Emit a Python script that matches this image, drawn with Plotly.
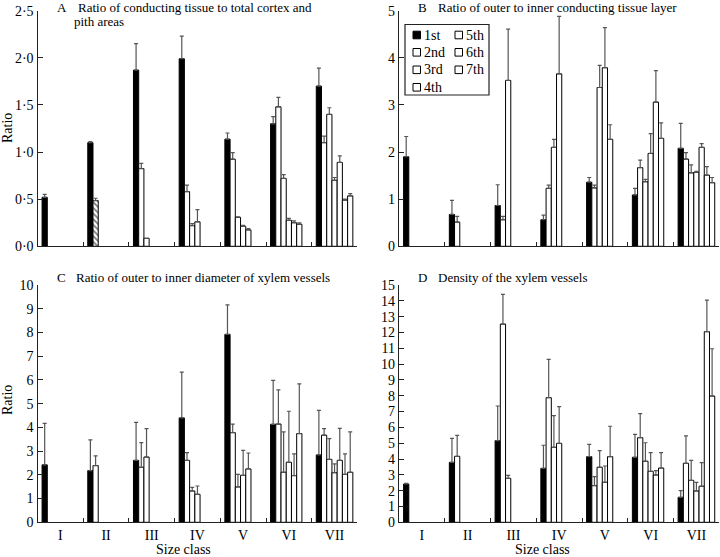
import plotly.graph_objects as go

classes = ["I", "II", "III", "IV", "V", "VI", "VII"]
internodes = ["1st", "2nd", "3rd", "4th", "5th", "6th", "7th"]

# Panel A: ratio of conducting tissue to total cortex and pith areas (mean, SE) per size class
A_mean = [[0.52], [1.10, 0.485], [1.87, 0.825, 0.085], [1.99, 0.58, 0.22, 0.26],
          [1.137, 0.924, 0.308, 0.212, 0.174], [1.30, 1.48, 0.72, 0.276, 0.25, 0.234],
          [1.70, 1.10, 1.40, 0.70, 0.89, 0.49, 0.535]]
A_se = [[0.03], [0.01, 0.025], [0.28, 0.055, 0.0], [0.24, 0.07, 0.02, 0.13],
        [0.065, 0.07, 0.005, 0.01, 0.015], [0.075, 0.10, 0.04, 0.02, 0.02, 0.015],
        [0.19, 0.07, 0.07, 0.03, 0.07, 0.01, 0.025]]

# Panel B: ratio of outer to inner conducting tissue layer
B_mean = [[1.90], [0.676, 0.514], [0.866, 0.563, 3.52], [0.563, 1.23, 2.10, 3.66],
          [1.36, 1.24, 3.37, 3.79, 2.27], [1.09, 1.67, 1.37, 1.97, 3.06, 2.29],
          [2.08, 1.85, 1.56, 1.57, 2.10, 1.51, 1.35]]
B_se = [[0.43], [0.30, 0.12], [0.44, 0.07, 1.09], [0.10, 0.07, 0.17, 1.22],
        [0.10, 0.06, 0.47, 0.85, 0.31], [0.14, 0.16, 0.05, 0.42, 0.67, 0.33],
        [0.53, 0.14, 0.17, 0.02, 0.08, 0.18, 0.11]]

# Panel C: ratio of outer to inner diameter of xylem vessels
C_mean = [[2.42], [2.18, 2.39], [2.61, 2.32, 2.75], [4.40, 2.61, 1.32, 1.18],
          [7.92, 3.78, 1.49, 1.98, 2.25], [4.13, 4.14, 2.11, 2.53, 1.97, 3.74],
          [2.84, 3.67, 2.65, 2.09, 2.61, 2.02, 2.11]]
C_se = [[1.75], [1.29, 0.41], [1.60, 1.04, 1.20], [1.93, 0.33, 0.15, 0.35],
        [1.24, 0.36, 0.53, 1.05, 0.67], [1.85, 1.44, 1.70, 2.15, 0.91, 2.09],
        [1.88, 0.28, 0.88, 0.37, 1.35, 0.86, 1.70]]

# Panel D: density of the xylem vessels
D_mean = [[2.42], [3.79, 4.17], [5.16, 12.53, 2.78], [3.41, 7.88, 4.74, 4.99],
          [4.15, 2.32, 3.48, 2.53, 4.15], [4.11, 5.35, 3.86, 3.22, 2.99, 3.43],
          [1.58, 3.73, 2.65, 1.98, 2.28, 12.05, 7.98]]
D_se = [[0.04], [1.52, 1.33], [2.19, 1.88, 0.19], [1.46, 2.42, 2.00, 2.32],
        [0.78, 0.57, 1.05, 1.03, 1.92], [1.45, 1.52, 1.17, 1.18, 0.28, 0.97],
        [0.42, 1.73, 1.27, 0.55, 1.49, 2.00, 2.99]]

A_ticks = [0, 0.5, 1.0, 1.5, 2.0, 2.5]
A_ticktext = ["0·0", "0·5", "1·0", "1·5", "2·0", "2·5"]

W, H = 720, 557
FONT = "Liberation Serif, Times New Roman, serif"
AXC = "#222222"


def px(x):
    return x / W


def py(y):
    return 1 - y / H


fig = go.Figure()

panels = [
    ("A", A_mean, A_se, "x", "y"),
    ("B", B_mean, B_se, "x2", "y2"),
    ("C", C_mean, C_se, "x3", "y3"),
    ("D", D_mean, D_se, "x4", "y4"),
]

for name, means, ses, xa, ya in panels:
    for j, lab in enumerate(internodes):
        y = [m[j] if j < len(m) else None for m in means]
        e = [s[j] if j < len(s) else 0 for s in ses]
        marker = dict(color="black" if j == 0 else "white",
                      line=dict(color="black", width=1))
        if name == "A" and j == 1:
            shapes = [""] * len(classes)
            shapes[1] = "\\"
            marker["pattern"] = dict(shape=shapes, fgcolor="black", bgcolor="white",
                                     size=4, solidity=0.45, fillmode="overlay")
        fig.add_trace(go.Bar(
            x=classes, y=y, name=lab, xaxis=xa, yaxis=ya,
            marker=marker,
            error_y=dict(type="data", array=e, arrayminus=[0] * len(e), symmetric=False,
                         color="#555555", thickness=1.2, width=2),
            showlegend=False,
            hoverinfo="skip",
        ))

left_dom = [px(37.5), px(357.4)]
right_dom = [px(399), px(719.3)]
top_dom = [py(246.3), py(10.7)]
bot_dom = [py(522.3), py(285)]

axis_common = dict(showline=True, linecolor=AXC, linewidth=1.3, showgrid=False,
                   zeroline=False, automargin=False,
                   tickfont=dict(family=FONT, size=14, color="black"))


def xax(dom, anchor, labels):
    return dict(domain=dom, anchor=anchor, type="category", range=[-0.5, 6.5],
                ticks="inside", tickson="boundaries", ticklen=4, tickcolor=AXC,
                tickwidth=1.2, showticklabels=labels, **axis_common)


def yax(dom, anchor, rng, dtick, tickvals=None, ticktext=None):
    d = dict(domain=dom, anchor=anchor, range=rng, ticks="inside", ticklen=5,
             tickcolor=AXC, tickwidth=1.2, **axis_common)
    if tickvals is not None:
        d.update(tickmode="array", tickvals=tickvals, ticktext=ticktext)
    else:
        d.update(tickmode="linear", tick0=0, dtick=dtick)
    return d


# legend drawn as a boxed key (2 columns)
leg_shapes = [dict(type="rect", xref="paper", yref="paper",
                   x0=px(405), x1=px(489), y0=py(95), y1=py(24.5),
                   line=dict(color=AXC, width=1.2))]
leg_rows = [35, 52.3, 69.8, 87.3]
ann = []


def text(x, y, t, xanchor="left", angle=0, yanchor="middle", size=13):
    ann.append(dict(x=px(x), y=py(y), xref="paper", yref="paper", text=t, showarrow=False,
                    xanchor=xanchor, yanchor=yanchor, textangle=angle, align="left",
                    font=dict(family=FONT, size=size, color="black")))


for j, lab in enumerate(internodes):
    col, row = (0, j) if j < 4 else (1, j - 4)
    sx = 413 if col == 0 else 455
    cy = leg_rows[row]
    leg_shapes.append(dict(type="rect", xref="paper", yref="paper",
                           x0=px(sx), x1=px(sx + 7.5), y0=py(cy + 3.8), y1=py(cy - 3.8),
                           fillcolor="black" if j == 0 else "white",
                           line=dict(color="black", width=1)))
    text(sx + 9, cy, lab, size=14)

fig.update_layout(
    width=W, height=H,
    margin=dict(l=0, r=0, t=0, b=0),
    paper_bgcolor="white", plot_bgcolor="white",
    barmode="group", bargap=0.2, bargroupgap=0,
    font=dict(family=FONT, size=13, color="black"),
    showlegend=False,
    xaxis=xax(left_dom, "y", False),
    yaxis=yax(top_dom, "x", [0, 2.5], None, A_ticks, A_ticktext),
    xaxis2=xax(right_dom, "y2", False),
    yaxis2=yax(top_dom, "x2", [0, 5], 1),
    xaxis3=xax(left_dom, "y3", True),
    yaxis3=yax(bot_dom, "x3", [0, 10], 1),
    xaxis4=xax(right_dom, "y4", True),
    yaxis4=yax(bot_dom, "x4", [0, 15], 1),
    shapes=leg_shapes,
)

text(55, 8, "A")
text(76, 8, "Ratio of conducting tissue to total cortex and")
text(72, 22, "pith areas")
text(416, 7, "B")
text(436, 7, "Ratio of outer to inner conducting tissue layer")
text(55, 277, "C")
text(74, 277, "Ratio of outer to inner diameter of xylem vessels")
text(416, 277, "D")
text(436, 277, "Density of the xylem vessels")
text(7, 128, "Ratio", xanchor="center", angle=-90, size=14)
text(7, 400, "Ratio", xanchor="center", angle=-90, size=14)
text(183, 549, "Size class", xanchor="center", size=14)
text(542, 549, "Size class", xanchor="center", size=14)
fig.update_layout(annotations=ann)

fig.write_html("out.html", config={"displayModeBar": False},
               post_script="document.body.style.margin='0px';document.body.style.overflow='hidden';")
